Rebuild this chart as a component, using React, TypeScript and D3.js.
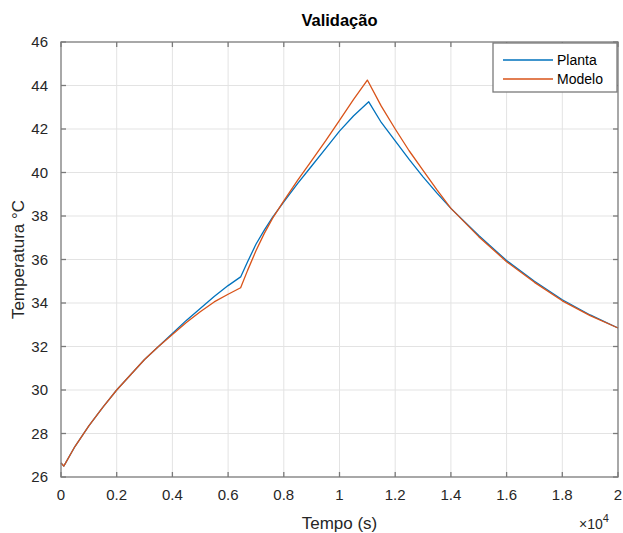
import { useEffect } from "react";
import * as d3 from "d3";

// tempo em segundos
const tempoPlanta = [0, 100, 500, 1000, 1500, 2000, 2500, 3000, 3500, 4000, 4500, 5000, 5500, 6000, 6450, 6700, 7000, 7300, 7600, 8000, 8500, 9000, 9500, 10000, 10500, 11050, 11500, 12000, 12500, 13000, 13500, 14000, 15000, 16000, 17000, 18000, 19000, 20000];
const planta = [26.65, 26.5, 27.4, 28.35, 29.2, 30.0, 30.7, 31.4, 32.0, 32.6, 33.2, 33.75, 34.3, 34.8, 35.2, 35.9, 36.7, 37.35, 37.95, 38.65, 39.5, 40.3, 41.1, 41.9, 42.6, 43.25, 42.3, 41.45, 40.6, 39.8, 39.05, 38.35, 37.1, 35.95, 35.0, 34.15, 33.45, 32.85];

const tempoModelo = [0, 100, 500, 1000, 1500, 2000, 2500, 3000, 3500, 4000, 4500, 5000, 5500, 6000, 6450, 6700, 7000, 7300, 7600, 8000, 8500, 9000, 9500, 10000, 10500, 11000, 11500, 12000, 12500, 13000, 13500, 14000, 15000, 16000, 17000, 18000, 19000, 20000];
const modelo = [26.65, 26.5, 27.4, 28.35, 29.2, 30.0, 30.7, 31.4, 32.0, 32.55, 33.1, 33.6, 34.05, 34.4, 34.7, 35.5, 36.4, 37.2, 37.9, 38.7, 39.65, 40.55, 41.45, 42.4, 43.35, 44.25, 43.05, 42.0, 41.0, 40.1, 39.2, 38.35, 37.05, 35.9, 34.95, 34.1, 33.42, 32.85];

const xTicks = [0, 2000, 4000, 6000, 8000, 10000, 12000, 14000, 16000, 18000, 20000];
const yTicks = [26, 28, 30, 32, 34, 36, 38, 40, 42, 44, 46];
const series = [
  { nome: "Planta", cor: "#0072BD", t: tempoPlanta, v: planta },
  { nome: "Modelo", cor: "#D95319", t: tempoModelo, v: modelo },
];

const W = 623;
const H = 533;
const m = { left: 61, right: 5, top: 42, bottom: 56 };
const font = "'Liberation Sans', Arial, sans-serif";
const txt = "#262626";

export default function App() {
  useEffect(() => {
    document.body.style.margin = "0";
  }, []);

  const x = d3.scaleLinear().domain([0, 20000]).range([m.left, W - m.right]);
  const y = d3.scaleLinear().domain([26, 46]).range([H - m.bottom, m.top]);
  const [x0, x1] = x.range();
  const [y0, y1] = y.range();
  const tk = 5;

  const line = (s: typeof series[number]) =>
    d3.line<number>()
      .x((_, i) => x(s.t[i]))
      .y((d) => y(d))(s.v) || "";

  const fmt = (v: number) => d3.format("~g")(v / 10000);
  const lx = 493, ly = 43;

  return (
    <svg width={W} height={H} style={{ display: "block", background: "#fff" }} fontFamily={font}>
      {/* grade */}
      <g stroke="#e3e3e3" strokeWidth={1}>
        {xTicks.slice(1, -1).map((t) => (
          <line key={"gx" + t} x1={x(t)} x2={x(t)} y1={y1} y2={y0} />
        ))}
        {yTicks.slice(1, -1).map((t) => (
          <line key={"gy" + t} x1={x0} x2={x1} y1={y(t)} y2={y(t)} />
        ))}
      </g>

      {/* curvas */}
      <g fill="none" strokeWidth={1.3} strokeLinejoin="round">
        {series.map((s) => (
          <path key={s.nome} d={line(s)} stroke={s.cor} />
        ))}
      </g>

      {/* caixa e marcas */}
      <g stroke="#7a7a7a" strokeWidth={1.3}>
        <rect x={x0} y={y1} width={x1 - x0} height={y0 - y1} fill="none" />
        {xTicks.map((t) => (
          <g key={"tx" + t}>
            <line x1={x(t)} x2={x(t)} y1={y0} y2={y0 - tk} />
            <line x1={x(t)} x2={x(t)} y1={y1} y2={y1 + tk} />
          </g>
        ))}
        {yTicks.map((t) => (
          <g key={"ty" + t}>
            <line x1={x0} x2={x0 + tk} y1={y(t)} y2={y(t)} />
            <line x1={x1} x2={x1 - tk} y1={y(t)} y2={y(t)} />
          </g>
        ))}
      </g>

      <g fill={txt} fontSize={15}>
        {xTicks.map((t) => (
          <text key={"lx" + t} x={x(t)} y={y0 + 23} textAnchor="middle">{fmt(t)}</text>
        ))}
        {yTicks.map((t) => (
          <text key={"ly" + t} x={x0 - 13} y={y(t) + 5} textAnchor="end">{t}</text>
        ))}
      </g>

      <text x={(x0 + x1) / 2} y={26} textAnchor="middle" fontSize={16.5} fontWeight="bold" fill="#000">Validação</text>
      <text x={(x0 + x1) / 2} y={529} textAnchor="middle" fontSize={17} fill={txt}>Tempo (s)</text>
      <text transform={`translate(24,${(y0 + y1) / 2}) rotate(-90)`} textAnchor="middle" fontSize={17} fill={txt}>Temperatura °C</text>
      <text x={579} y={529} fontSize={14} fill={txt}>
        ×10<tspan dy={-7} fontSize={11}>4</tspan>
      </text>

      {/* legenda */}
      <g>
        <rect x={lx} y={ly} width={124} height={49} fill="#fff" stroke="#7a7a7a" strokeWidth={1.3} />
        {series.map((s, i) => (
          <g key={"lg" + s.nome} transform={`translate(${lx},${ly + 17 + i * 19})`}>
            <line x1={10} x2={60} y1={0} y2={0} stroke={s.cor} strokeWidth={1.3} />
            <text x={64} y={5} fontSize={14} fill="#000">{s.nome}</text>
          </g>
        ))}
      </g>
    </svg>
  );
}
